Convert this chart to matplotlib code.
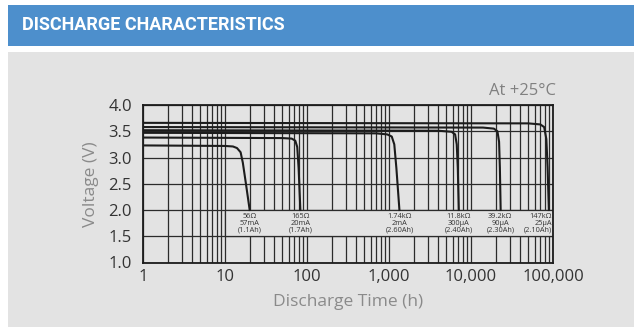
"""Discharge characteristics panel: cell voltage vs discharge time at +25 C
for six resistive loads, on a log time axis with a full decade grid."""
import matplotlib
matplotlib.use("Agg")
import matplotlib.pyplot as plt
from matplotlib.patches import Rectangle
from matplotlib.ticker import FixedLocator, LogLocator, NullFormatter

# discharge curves (hours, volts), one pair per load
T_56R = [1, 10, 12.5, 14, 15.5, 16.5, 18, 20]
V_56R = [3.23, 3.22, 3.21, 3.18, 3.10, 2.90, 2.50, 2.00]
T_165R = [1, 50, 65, 72, 76, 79, 83]
V_165R = [3.38, 3.37, 3.36, 3.32, 3.20, 2.80, 2.00]
T_1K74 = [1, 700, 950, 1080, 1160, 1230, 1340]
V_1K74 = [3.47, 3.46, 3.44, 3.40, 3.25, 2.80, 2.00]
T_11K8 = [1, 4000, 5800, 6400, 6700, 6900, 7100]
V_11K8 = [3.52, 3.51, 3.49, 3.44, 3.25, 2.80, 2.00]
T_39K2 = [1, 14000, 19000, 21000, 22000, 22500, 23000]
V_39K2 = [3.58, 3.57, 3.55, 3.50, 3.30, 2.80, 2.00]
T_147K = [1, 50000, 70000, 78000, 83000, 86000, 89000]
V_147K = [3.66, 3.65, 3.63, 3.58, 3.35, 2.80, 2.00]

# load captions, placed at the end of each curve
LOAD_TEXT = ["56Ω\n57mA\n(1.1Ah)", "165Ω\n20mA\n(1.7Ah)", "1.74kΩ\n2mA\n(2.60Ah)",
             "11.8kΩ\n300µA\n(2.40Ah)", "39.2kΩ\n90µA\n(2.30Ah)", "147kΩ\n25µA\n(2.10Ah)"]
LOAD_T = [20, 84, 1340, 7100, 22800, 97000]

X_TICKS = [1, 10, 100, 1000, 10000, 100000]
X_TICKLABELS = ["1", "10", "100", "1,000", "10,000", "100,000"]
Y_TICKS = [1.0, 1.5, 2.0, 2.5, 3.0, 3.5, 4.0]

BG = "#e3e3e3"
BLUE = "#4d8fcc"
INK = "#1c1c1c"
GRID = "#2b2b2b"

plt.rcParams["font.family"] = ["Open Sans", "DejaVu Sans"]

fig = plt.figure(figsize=(6.34, 3.27), dpi=100, facecolor="white")
W, H = 634, 327
# grey body + blue title band, kept behind the axes
fig.patches.append(Rectangle((8 / W, 0), 1, (H - 52) / H, transform=fig.transFigure,
                             facecolor=BG, edgecolor="none", zorder=-5))
fig.patches.append(Rectangle((8 / W, (H - 46) / H), 1, 41 / H, transform=fig.transFigure,
                             facecolor=BLUE, edgecolor="none", zorder=-5))
fig.text(22 / W, (H - 25.5) / H, "DISCHARGE CHARACTERISTICS", color="white",
         fontsize=13, fontweight="bold", va="center", ha="left",
         family=["Roboto", "DejaVu Sans"])

ax = fig.add_axes([143 / W, (H - 262.5) / H, 410 / W, 157.5 / H])
ax.set_facecolor(BG)
ax.set_xscale("log")
ax.set_xlim(1, 100000)
ax.set_ylim(1.0, 4.0)

ax.xaxis.set_major_locator(FixedLocator(X_TICKS))
ax.set_xticklabels(X_TICKLABELS)
ax.xaxis.set_minor_locator(LogLocator(base=10, subs=range(2, 10)))
ax.xaxis.set_minor_formatter(NullFormatter())
ax.set_yticks(Y_TICKS)
ax.set_yticklabels([f"{v:.1f}" for v in Y_TICKS])
ax.tick_params(which="both", length=0)
ax.tick_params(axis="y", labelsize=12, labelcolor="#333333", pad=8)
ax.tick_params(axis="x", labelsize=12, labelcolor="#333333", pad=5)

ax.grid(True, which="both", axis="x", color=GRID, lw=0.9, zorder=1)
ax.grid(True, which="major", axis="y", color=GRID, lw=0.9, zorder=1)
ax.set_axisbelow(True)
for s in ax.spines.values():
    s.set_color(INK)
    s.set_linewidth(1.3)

# caption strip hides the grid between 1.5 V and 2.0 V
ax.add_patch(Rectangle((10, 1.5), 100000 - 10, 0.5, facecolor=BG, edgecolor=GRID,
                       lw=0.9, zorder=1.5))

for t, v in [(T_56R, V_56R), (T_165R, V_165R), (T_1K74, V_1K74),
             (T_11K8, V_11K8), (T_39K2, V_39K2), (T_147K, V_147K)]:
    ax.plot(t, v, color=INK, lw=1.5, solid_joinstyle="round", zorder=3)

for i, (txt, t) in enumerate(zip(LOAD_TEXT, LOAD_T)):
    last = i == len(LOAD_TEXT) - 1
    ax.text(t, 1.745, txt, fontsize=5.3, color="#333333", va="center",
            ha="right" if last else "center",
            multialignment="right" if last else "center", linespacing=1.0,
            zorder=4)

ax.set_ylabel("Voltage (V)", fontsize=12.5, color="#8a8a8a", labelpad=7)
ax.set_xlabel("Discharge Time (h)", fontsize=12.5, color="#8a8a8a", labelpad=6)
fig.text(556 / W, (H - 91) / H, "At +25°C", fontsize=12, color="#808080",
         ha="right", va="center")

fig.savefig("out.png", dpi=100, facecolor="white")
